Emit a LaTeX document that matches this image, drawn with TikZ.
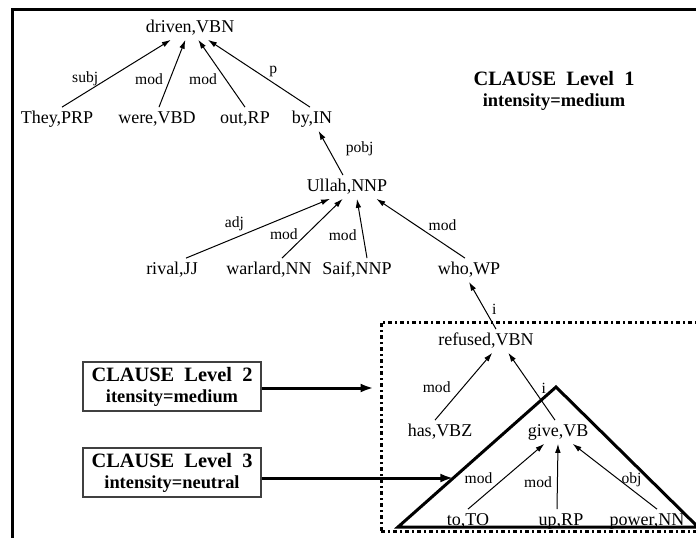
\documentclass[tikz,border=0pt]{standalone}
\usepackage{fontspec}
\setmainfont{Liberation Serif}
\usetikzlibrary{arrows.meta,calc}

\begin{document}
\begin{tikzpicture}[
    x=0.5pt, y=-0.5pt,
    word/.style={inner sep=1pt, text height=6.75pt, text depth=2.7pt, font=\fontsize{9}{10}\selectfont, anchor=base},
    lbl/.style={inner sep=1pt, font=\fontsize{7.8}{8}\selectfont},
    arrow/.style={->, >={Latex[length=4.5pt,width=2.8pt]}, line width=0.5pt},
    bigarrow/.style={->, >={Latex[length=6.5pt,width=4.5pt]}, line width=1.5pt},
    levelbox/.style={draw=black!75, line width=0.6pt, minimum width=89pt, minimum height=24.5pt, align=center, inner sep=1pt, font=\fontsize{9.2}{10.5}\selectfont\bfseries},
    title/.style={align=center, inner sep=0pt, font=\fontsize{9.2}{10.2}\selectfont\bfseries},
    dotbox/.style={draw, line width=1.5pt, dash pattern=on 2pt off 1.5pt on 1pt off 1.5pt, minimum width=169.5pt, minimum height=104.5pt, inner sep=0pt},
    tri/.style={line width=1.5pt, line join=miter},
    frame/.style={line width=1.5pt}
]
    \clip (0,0) rectangle (696,537);
    \draw[frame] (12,9) rectangle (740,560);

    % Level 1 clause
    \node[word] (driven) at (190,32) {driven,VBN};
    \node[word] (they) at (57,123) {They,PRP};
    \node[word] (were) at (157,123) {were,VBD};
    \node[word] (out) at (245,123) {out,RP};
    \node[word] (by) at (312,123) {by,IN};
    \node[word] (ullah) at (347,191) {Ullah,NNP};
    \node[word] (rival) at (172,274) {rival,JJ};
    \node[word] (warlard) at (269,274) {warlard,NN};
    \node[word] (saif) at (357,274) {Saif,NNP};
    \node[word] (who) at (469,274) {who,WP};
    \node[title] (lvl1) at (554,91) {{\fontsize{10.2}{10.2}\selectfont CLAUSE~~Level~~1}\\intensity=medium};

    % Level 2 and 3 clauses
    \node[dotbox] (clausetwo) at (550.5,426.5) {};
    \coordinate (apex) at (556,387);
    \coordinate (tl) at (398,527);
    \coordinate (tr) at (698,527);
    \draw[tri] (tl) -- (apex) -- (tr) -- cycle;
    \coordinate (tside) at ($(tl)!0.35!(apex)$);

    \node[word] (refused) at (486,345) {refused,VBN};
    \node[word] (has) at (440,436) {has,VBZ};
    \node[word] (give) at (558,436) {give,VB};
    \node[word] (to) at (468,525) {to,TO};
    \node[word] (up) at (561,525) {up,RP};
    \node[word] (power) at (647,525) {power,NN};

    \node[levelbox] (lvl2) at (172,386.5) {{\fontsize{10.2}{10.5}\selectfont CLAUSE~~Level~~2}\\itensity=medium};
    \node[levelbox] (lvl3) at (172,472.5) {{\fontsize{10.2}{10.5}\selectfont CLAUSE~~Level~~3}\\intensity=neutral};

    % Dependencies
    \draw[arrow] ([xshift=2.5pt]they.north) -- (driven) node[lbl, pos=.42, left=3.5pt] {subj};
    \draw[arrow] ([xshift=1pt]were.north) -- (driven) node[lbl, pos=.41, left=2.2pt] {mod};
    \draw[arrow] (out.north) -- (driven) node[lbl, pos=.42, left=3pt] {mod};
    \draw[arrow] ([xshift=-1pt]by.north) -- (driven) node[lbl, pos=.53, right=5.5pt] {p};
    \draw[arrow] ([xshift=-2pt]ullah.north) -- (by) node[lbl, pos=.6, right=7.5pt] {pobj};
    \draw[arrow] ([xshift=7pt]rival.north) -- (ullah.-145) node[lbl, pos=.42, above left=0pt] {adj};
    \draw[arrow] ([xshift=6.5pt]warlard.north) -- (ullah.-110) node[lbl, pos=.4, left=3pt] {mod};
    \draw[arrow] ([xshift=5pt]saif.north) -- (ullah.-50) node[lbl, pos=.39, left=2pt] {mod};
    \draw[arrow] ([xshift=-2pt]who.north) -- (ullah.-22) node[lbl, pos=.55, right=5pt] {mod};
    \draw[arrow] ([xshift=5pt]refused.north) -- (who.south) node[lbl, pos=.42, right=2.5pt] {i};
    \draw[arrow] ([xshift=-2.5pt]has.north) -- (refused.-62) node[lbl, pos=.49, left=5pt] {mod};
    \draw[arrow] ([xshift=-1.5pt]give.north) -- (refused.-28) node[lbl, pos=.47, right=3pt] {i};
    \draw[arrow] (to.north) -- (give.-139) node[lbl, pos=.47, left=4.5pt] {mod};
    \draw[arrow] ([xshift=-2pt]up.north) -- (give.south) node[lbl, pos=.41, left=1.5pt] {mod};
    \draw[arrow] ([xshift=5pt]power.north) -- (give.-39) node[lbl, pos=.45, right=0pt] {obj};

    % Level pointers
    \draw[bigarrow, shorten >=3pt] ([yshift=-0.75pt]lvl2.east) -- ([yshift=-0.75pt]lvl2.east -| clausetwo.west);
    \draw[bigarrow] (lvl3.east |- tside) -- (tside);
\end{tikzpicture}
\end{document}
